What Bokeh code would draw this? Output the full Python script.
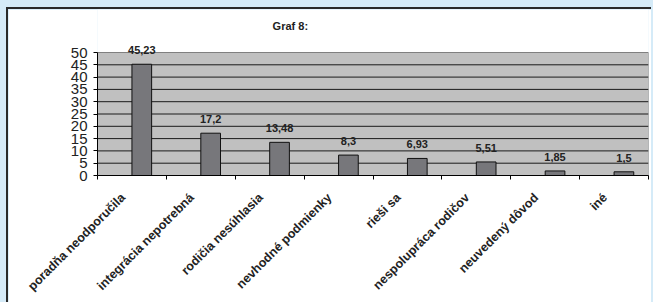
import math
from bokeh.plotting import figure
from bokeh.models import Range1d, FixedTicker, ColumnDataSource
from bokeh.core.properties import value
from bokeh.embed import file_html
from bokeh.resources import INLINE

categories = ["poradňa neodporučila", "integrácia nepotrebná", "rodičia nesúhlasia",
              "nevhodné podmienky", "rieši sa", "nespolupráca rodičov",
              "neuvedený dôvod", "iné"]
values = [45.23, 17.2, 13.48, 8.3, 6.93, 5.51, 1.85, 1.5]
y_ticks = [0, 5, 10, 15, 20, 25, 30, 35, 40, 45, 50]
title_text = "Graf 8:"

FONT = "Liberation Sans"
n = len(categories)
y_max = y_ticks[-1]
centers = [i + 0.5 for i in range(n)]
label_pos = [c - 0.13 for c in centers]
bar_w = 0.286
bar_x = [c + bar_w / 2 for c in centers]
labels = [str(v).replace(".", ",") for v in values]

src = ColumnDataSource(dict(x=bar_x, top=values, lab=labels))

# frame spans the whole upper area; the grey plot area is 0..y_max
p = figure(width=645, height=296, output_backend="svg", toolbar_location=None,
           x_range=Range1d(0, n), y_range=Range1d(0, 67.48),
           min_border_left=89, min_border_right=5, min_border_top=0,
           min_border_bottom=130)
p.background_fill_color = "white"
p.border_fill_color = "white"
p.outline_line_color = None
p.xgrid.visible = False
p.ygrid.visible = False

# grey plot area
p.quad(left=[0], right=[n], bottom=[0], top=[y_max],
       fill_color="#c0c0c0", line_color="#808080", line_width=1)
# horizontal gridlines
grid_y = y_ticks[1:-1]
p.segment(x0=[0] * len(grid_y), x1=[n] * len(grid_y), y0=grid_y, y1=grid_y,
          line_color="#1a1a1a", line_width=1)

p.vbar(x="x", top="top", width=bar_w, bottom=0, source=src,
       fill_color="#77777b", line_color="#111111", line_width=1)
p.text(x="x", y="top", text="lab", source=src, text_align="center",
       text_baseline="bottom", y_offset=-10, text_font=value(FONT),
       text_font_size="11px", text_font_style="bold", text_color="#222222")

# title
p.text(x=[2.8], y=[60.57], text=[title_text], text_align="center",
       text_baseline="middle", text_font=value(FONT), text_font_size="11px",
       text_font_style="bold", text_color="#222222")

# y axis
ya = p.yaxis[0]
ya.ticker = FixedTicker(ticks=y_ticks)
ya.bounds = (0, y_max)
ya.axis_line_color = "black"
ya.major_tick_line_color = "black"
ya.major_tick_out = 4
ya.major_tick_in = 0
ya.minor_tick_line_color = None
ya.major_label_text_font = FONT
ya.major_label_text_font_size = "15px"
ya.major_label_text_color = "#222222"
ya.major_label_standoff = 6

# x axis
xa = p.xaxis[0]
xa.ticker = FixedTicker(ticks=label_pos, minor_ticks=list(range(n + 1)))
xa.axis_line_color = "black"
xa.major_tick_in = 0
xa.major_tick_out = 0
xa.minor_tick_in = 0
xa.minor_tick_out = 4
xa.minor_tick_line_color = "black"
xa.major_label_overrides = {c: lab for c, lab in zip(label_pos, categories)}
xa.major_label_orientation = math.pi / 4
xa.major_label_text_font = FONT
xa.major_label_text_font_size = "12.5px"
xa.major_label_text_font_style = "bold"
xa.major_label_text_color = "#222222"
xa.major_label_standoff = 16

p.styles = {"margin-left": "6px", "margin-top": "7px",
            "border-left": "2px solid #2a2a2a", "border-top": "2px solid #2a2a2a"}

html = file_html(p, INLINE)
html = html.replace("</head>",
                    "<style>body{background-color:#d5ebf8;margin:0;padding:0;"
                    "overflow:hidden;}</style></head>", 1)
open("out.html", "w").write(html)
